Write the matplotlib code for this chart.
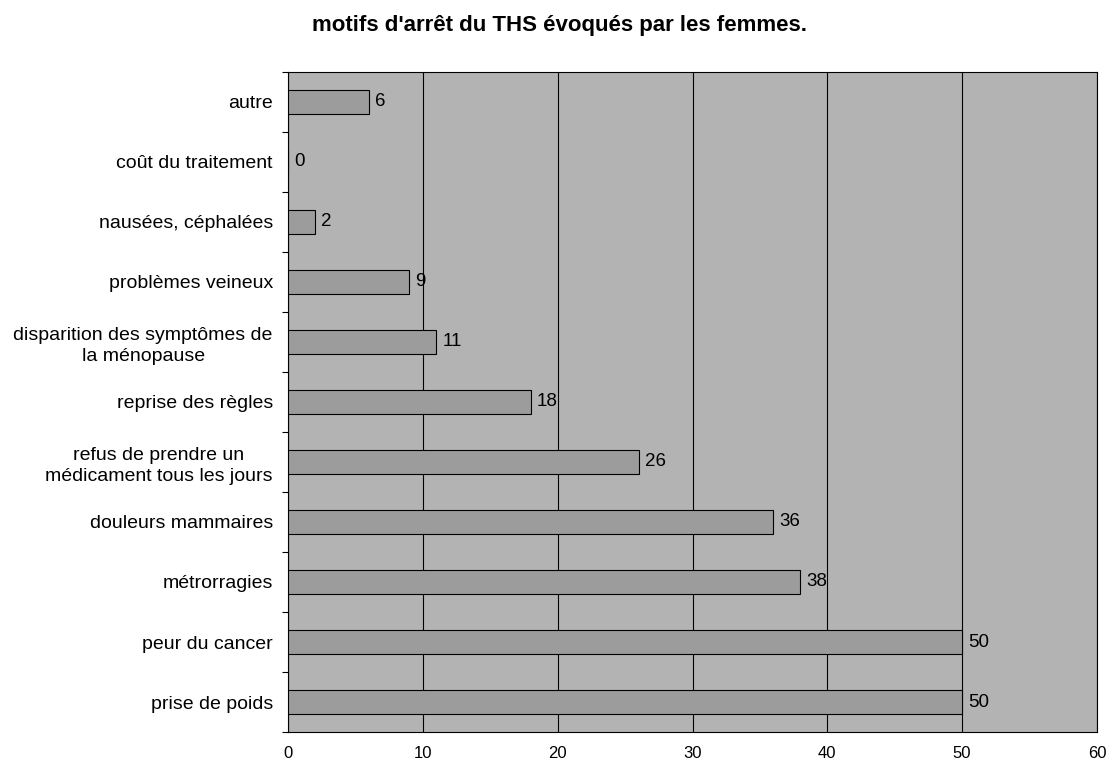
import matplotlib.pyplot as plt
import numpy as np

categories = ["prise de poids", "peur du cancer", "métrorragies", "douleurs mammaires",
              "refus de prendre un\nmédicament tous les jours", "reprise des règles",
              "disparition des symptômes de\nla ménopause", "problèmes veineux",
              "nausées, céphalées", "coût du traitement", "autre"]
values = [50, 50, 38, 36, 26, 18, 11, 9, 2, 0, 6]
xticks = [0, 10, 20, 30, 40, 50, 60]

plt.rcParams['font.family'] = ['Liberation Sans', 'DejaVu Sans']

fig = plt.figure(figsize=(11.08, 7.61), dpi=100)
ax = fig.add_axes([0.26, 0.038, 0.73, 0.868])
ax.set_facecolor('#b3b3b3')

y = np.arange(len(categories))
ax.barh(y, values, height=0.4, color='#9c9c9c', edgecolor='black', linewidth=0.8, zorder=3)
for yi, v in zip(y, values):
    ax.text(v + 0.45, yi, str(v), va='center', ha='left', fontsize=13.5, zorder=4)

ax.set_xlim(0, 60)
ax.set_ylim(-0.5, len(categories) - 0.5)
ax.set_xticks(xticks)
ax.set_xticklabels([str(t) for t in xticks], fontsize=12)
ax.tick_params(axis='x', length=0, pad=10)
ax.set_yticks(y)
ax.set_yticklabels(categories, fontsize=14, multialignment='center', linespacing=1.3)
ax.tick_params(axis='y', which='major', length=0, pad=11)
ax.set_yticks(np.arange(-0.5, len(categories), 1), minor=True)
ax.tick_params(axis='y', which='minor', length=4, width=0.8)
ax.grid(axis='x', color='black', linewidth=0.8, zorder=1)
for s in ax.spines.values():
    s.set_linewidth(0.8)

fig.text(0.505, 0.966, "motifs d'arrêt du THS évoqués par les femmes.", fontsize=16,
         fontweight='bold', ha='center', va='center')
fig.savefig('out.png', dpi=100)
